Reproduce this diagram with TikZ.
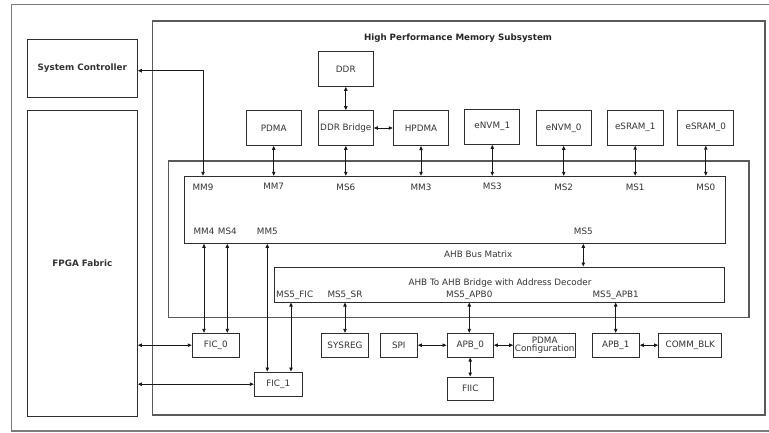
\documentclass[tikz,border=0pt]{standalone}
\usepackage{fontspec}
\setmainfont{DejaVu Sans}
\usetikzlibrary{positioning, arrows.meta, calc}
\definecolor{hpline}{HTML}{2E2E2E}
\definecolor{hpframe}{HTML}{5A5A5A}
\definecolor{hptext}{HTML}{333333}

\begin{document}
\begin{tikzpicture}[x=1pt, y=-1pt,
    blk/.style={draw=hpline, line width=1pt, fill=white, inner sep=0pt,
        align=center, text=hptext, font=\fontsize{8.8}{10.6}\selectfont},
    frame/.style={draw=hpframe, line width=1.3pt, inner sep=0pt},
    port/.style={inner sep=0pt, text=hptext, font=\fontsize{8.8}{10.6}\selectfont},
    ttl/.style={inner sep=0pt, text=black!85, font=\fontsize{8.7}{10.6}\selectfont\bfseries},
    arr/.style={{Triangle[length=4pt,width=3.4pt]}-{Triangle[length=4pt,width=3.4pt]},
        line width=0.8pt, draw=black!90},
]
\useasboundingbox (0,0) rectangle (769,432);

% ===== Outer frame and left blocks =====
\draw[draw=hpframe!80, line width=1.4pt] (11.7,4.3) rectangle (790,431);

\node[blk, minimum width=110pt, minimum height=57.6pt] (sysctrl) at (82.3,68.5)
  {\bfseries System Controller};
\node[blk, minimum width=110pt, minimum height=306pt] (fpga) at (82.3,263)
  {\bfseries FPGA Fabric};

% ===== High Performance Memory Subsystem =====
\node[frame, minimum width=612.3pt, minimum height=394pt] (hpms) at (458.85,218) {};
\node[ttl] (hpmstitle) at (458,37.7) {High Performance Memory Subsystem};

% Masters and slaves above the bus matrix
\node[blk, minimum width=55pt, minimum height=34.6pt] (ddr) at (345.8,69) {DDR};
\node[blk, minimum width=55pt, minimum height=34.6pt] (ddrbr) at (345.8,128) {DDR Bridge};
\node[blk, minimum width=55.3pt, minimum height=34.6pt] (pdma) at (273.7,128) {PDMA};
\node[blk, minimum width=55.4pt, minimum height=35pt] (hpdma) at (421,128) {HPDMA};
\node[blk, minimum width=54.7pt, minimum height=35.3pt] (envm1) at (492.3,126.7) {eNVM\_1};
\node[blk, minimum width=55.3pt, minimum height=34.6pt] (envm0) at (563.7,128) {eNVM\_0};
\node[blk, minimum width=55.7pt, minimum height=35pt] (esram1) at (635.2,127.7) {eSRAM\_1};
\node[blk, minimum width=55.7pt, minimum height=35pt] (esram0) at (705.8,127.7) {eSRAM\_0};

% ===== AHB bus matrix =====
\node[frame, minimum width=580.7pt, minimum height=156.7pt] (matrix) at (458.65,239.35) {};
\node[blk, minimum width=541pt, minimum height=67pt] (inner) at (454.8,209.8) {};
\node[port] (matrixlbl) at (478.3,254.3) {AHB Bus Matrix};

% Port labels
\node[port] (mm9) at (203,187.7) {MM9};
\node[port] (mm7) at (273.7,186.7) {MM7};
\node[port] (ms6) at (345.8,187.7) {MS6};
\node[port] (mm3) at (421,187.7) {MM3};
\node[port] (ms3) at (492.3,186.7) {MS3};
\node[port] (ms2) at (563.7,187.7) {MS2};
\node[port] (ms1) at (635.2,187.7) {MS1};
\node[port] (ms0) at (705.8,187.7) {MS0};
\node[port] (mm4) at (204,231.7) {MM4};
\node[port] (ms4) at (227.3,231.7) {MS4};
\node[port] (mm5) at (267.3,231.7) {MM5};
\node[port] (ms5) at (583.3,231.7) {MS5};

% AHB to AHB bridge
\node[blk, minimum width=450pt, minimum height=35pt] (bridge) at (499.3,284.5) {};
\node[port] (bridgelbl) at (500,283.3) {AHB To AHB Bridge with Address Decoder};
\node[port] (ms5fic) at (294.7,295.7) {MS5\_FIC};
\node[port] (ms5sr) at (345,295.7) {MS5\_SR};
\node[port] (ms5apb0) at (469.3,295.7) {MS5\_APB0};
\node[port] (ms5apb1) at (615.7,295.7) {MS5\_APB1};

% Peripherals
\node[blk, minimum width=47pt, minimum height=23.7pt] (fic0) at (215.8,345.2) {FIC\_0};
\node[blk, minimum width=47.7pt, minimum height=24.3pt] (fic1) at (278.2,384.2) {FIC\_1};
\node[blk, minimum width=47.4pt, minimum height=23.7pt] (sysreg) at (345,345.2) {SYSREG};
\node[blk, minimum width=37pt, minimum height=23.7pt] (spi) at (398.8,345.2) {SPI};
\node[blk, minimum width=46.3pt, minimum height=23.7pt] (apb0) at (470.2,345.2) {APB\_0};
\node[blk, minimum width=62pt, minimum height=23.7pt] (pdmacfg) at (544.7,345.2) {PDMA\\[-1.8pt]Configuration};
\node[blk, minimum width=47.3pt, minimum height=23.7pt] (apb1) at (615.7,345.2) {APB\_1};
\node[blk, minimum width=63.3pt, minimum height=23.7pt] (commblk) at (690.3,345.2) {COMM\_BLK};
\node[blk, minimum width=46.3pt, minimum height=23pt] (fiic) at (470.2,388.5) {FIIC};

% ===== Connections =====
\draw[arr] ([yshift=-2.2pt]sysctrl.east) -| (mm9 |- inner.north);
\draw[arr] (ddr) -- (ddrbr);
\draw[arr] (ddrbr) -- (hpdma);
\foreach \b in {pdma,ddrbr,hpdma,envm1,envm0,esram1,esram0}
  \draw[arr] (\b) -- (\b |- inner.north);

\draw[arr] (mm4 |- inner.south) -- (mm4 |- fic0.north);
\draw[arr] (ms4 |- inner.south) -- (ms4 |- fic0.north);
\draw[arr] (mm5 |- inner.south) -- (mm5 |- fic1.north);
\draw[arr] (ms5 |- inner.south) -- (ms5 |- bridge.north);

\draw[arr] ([xshift=-3.7pt]ms5fic |- bridge.south) -- ([xshift=-3.7pt]ms5fic |- fic1.north);
\draw[arr] (ms5sr |- bridge.south) -- (sysreg);
\draw[arr] (ms5apb0 |- bridge.south) -- (ms5apb0 |- apb0.north);
\draw[arr] (ms5apb1 |- bridge.south) -- (apb1);

\draw[arr] (fpga.east |- fic0) -- (fic0);
\draw[arr] (fpga.east |- fic1) -- (fic1);
\draw[arr] (spi) -- (apb0);
\draw[arr] (apb0) -- (pdmacfg);
\draw[arr] (apb0) -- (fiic);
\draw[arr] (apb1) -- (commblk);

\end{tikzpicture}
\end{document}
